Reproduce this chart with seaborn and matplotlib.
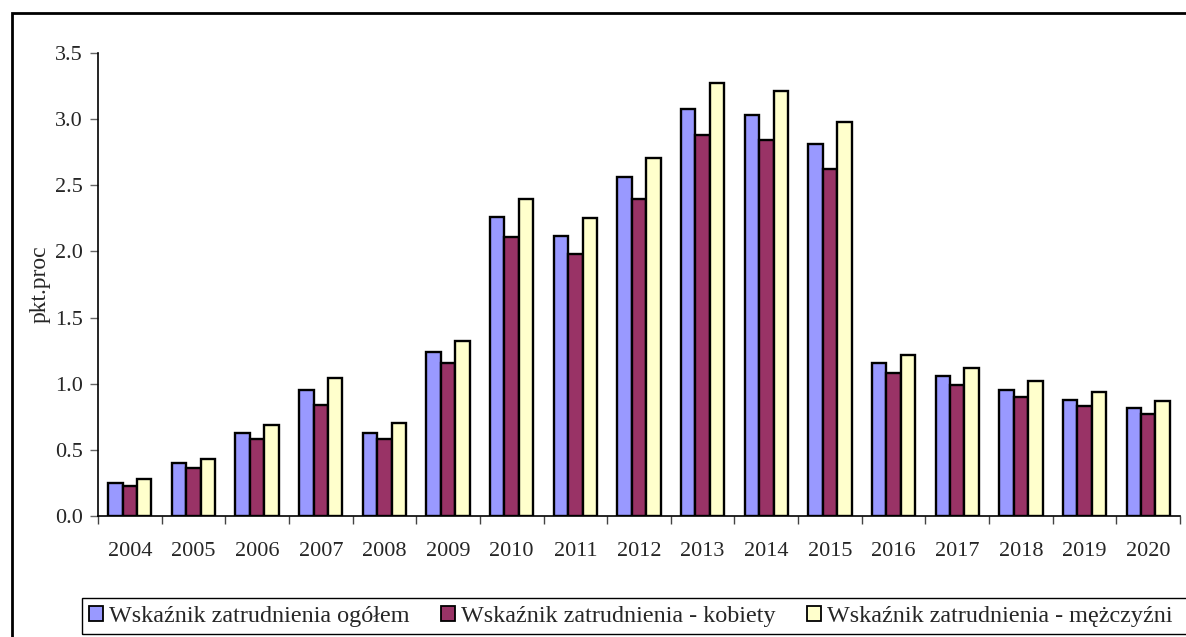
import matplotlib
matplotlib.use("Agg")
import matplotlib.pyplot as plt
from matplotlib.patches import Rectangle
from matplotlib.ticker import FixedLocator, MultipleLocator, FormatStrFormatter
import seaborn as sns
import pandas as pd

years = ["2004", "2005", "2006", "2007", "2008", "2009", "2010", "2011", "2012",
         "2013", "2014", "2015", "2016", "2017", "2018", "2019", "2020"]
ogolem = [0.25, 0.40, 0.63, 0.95, 0.63, 1.24, 2.26, 2.12, 2.56,
          3.08, 3.03, 2.81, 1.16, 1.06, 0.95, 0.88, 0.82]
kobiety = [0.23, 0.36, 0.58, 0.84, 0.58, 1.16, 2.11, 1.98, 2.40,
           2.88, 2.84, 2.62, 1.08, 0.99, 0.90, 0.83, 0.77]
mezczyzni = [0.28, 0.43, 0.69, 1.04, 0.70, 1.32, 2.40, 2.25, 2.71,
             3.27, 3.21, 2.98, 1.22, 1.12, 1.02, 0.94, 0.87]
series_names = ["Wskaźnik zatrudnienia ogółem",
                "Wskaźnik zatrudnienia - kobiety",
                "Wskaźnik zatrudnienia - mężczyźni"]
colors = ["#9999FF", "#993366", "#FFFFCC"]

df = pd.DataFrame({
    "rok": years * 3,
    "wartosc": ogolem + kobiety + mezczyzni,
    "seria": [series_names[0]] * len(years) + [series_names[1]] * len(years)
             + [series_names[2]] * len(years),
})

sns.set_style("white")
plt.rcParams["font.family"] = ["Liberation Serif", "DejaVu Serif"]

W, H = 1186, 637
fig = plt.figure(figsize=(W / 100, H / 100), dpi=100)
ax = fig.add_axes([98 / W, 1 - 516 / H, (1180 - 98) / W, (516 - 53) / H])

sns.barplot(data=df, x="rok", y="wartosc", hue="seria", palette=colors,
            width=0.68, edgecolor="black", linewidth=1.7, saturation=1,
            ax=ax, legend=True)

ax.set_ylim(0, 3.5)
ax.set_xlim(-0.5, len(years) - 0.5)
ax.yaxis.set_major_locator(MultipleLocator(0.5))
ax.yaxis.set_major_formatter(FormatStrFormatter("%.1f"))
ax.set_ylabel("pkt.proc", fontsize=17, labelpad=3)
ax.set_xlabel("")

# group separators as major ticks, year labels centred on minor ticks
ax.xaxis.set_major_locator(FixedLocator([i - 0.5 for i in range(len(years) + 1)]))
ax.xaxis.set_minor_locator(FixedLocator(list(range(len(years)))))
ax.set_xticklabels([], minor=False)
ax.set_xticklabels(years, minor=True)
ax.tick_params(axis="x", which="major", direction="out", length=6, width=1, color="#444444", bottom=True)
ax.tick_params(axis="x", which="minor", length=0, labelsize=16, pad=19, bottom=True)
ax.tick_params(axis="y", direction="out", length=6, width=1, color="#666666", labelsize=16, left=True, pad=5)

for s in ["top", "right"]:
    ax.spines[s].set_visible(False)
for s in ["left", "bottom"]:
    ax.spines[s].set_color("black")
    ax.spines[s].set_linewidth(1.2)

# legend in a boxed strip below the plot; the strip runs out past the right edge
ax.get_legend().remove()
handles = [Rectangle((0, 0), 1, 1, facecolor=c, edgecolor="black", linewidth=1.3) for c in colors]
leg = fig.legend(handles, series_names, loc="lower left", ncol=3,
                 bbox_to_anchor=(82 / W, 1 - 634 / H, 1.05, (634 - 598) / H),
                 bbox_transform=fig.transFigure, mode=None,
                 fontsize=17.4, frameon=False,
                 handlelength=0.58, handleheight=0.58, handletextpad=0.25,
                 columnspacing=1.3, borderaxespad=0, borderpad=0.3)
fig.patches.append(Rectangle((82 / W, 1 - 634 / H), 1.0, (634 - 598) / H,
                             transform=fig.transFigure, fill=False,
                             edgecolor="black", linewidth=1.0))

# outer chart frame
fig.patches.append(Rectangle((12 / W, -0.1), 1.2, 1 - 13 / H + 0.1,
                             transform=fig.transFigure, fill=False,
                             edgecolor="black", linewidth=2))

fig.savefig("out.png", dpi=100)
